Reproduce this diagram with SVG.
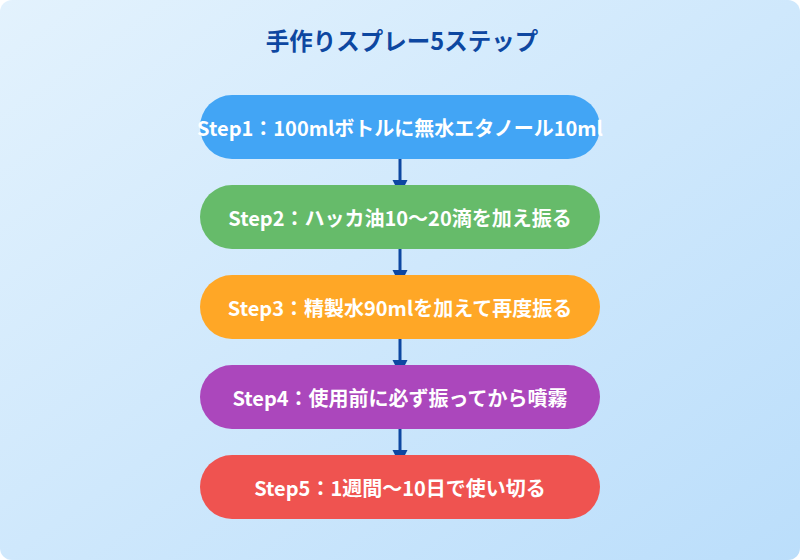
<svg xmlns="http://www.w3.org/2000/svg" width="800" height="560" viewBox="0 0 800 560">
<defs>
<linearGradient id="bg" x1="0" y1="0" x2="1" y2="1">
<stop offset="0" stop-color="#e3f2fd"/>
<stop offset="1" stop-color="#bbdefb"/>
</linearGradient>
<marker id="arr" viewBox="0 0 10 10" refX="10" refY="5" markerUnits="userSpaceOnUse" markerWidth="15" markerHeight="16" orient="auto">
<path d="M0,0 L10,5 L0,10 z" fill="#0d47a1"/>
</marker>
<style>
.node-text{font-family:"Noto Sans CJK JP","Noto Sans",sans-serif;font-size:20px;font-weight:bold;fill:#ffffff;text-anchor:middle}
.title{font-family:"Noto Sans CJK JP","Noto Sans",sans-serif;font-size:23.5px;font-weight:bold;fill:#0d47a1;text-anchor:middle}
.conn{stroke:#0d47a1;stroke-width:3;fill:none;marker-end:url(#arr)}
</style>
</defs>
<rect x="0" y="0" width="800" height="560" rx="12" fill="url(#bg)"/>
<text class="title" x="402" y="50">手作りスプレー5ステップ</text>
<g id="connectors">
<line class="conn" x1="400" y1="159" x2="400" y2="195"/>
<line class="conn" x1="400" y1="249" x2="400" y2="285"/>
<line class="conn" x1="400" y1="339" x2="400" y2="375"/>
<line class="conn" x1="400" y1="429" x2="400" y2="465"/>
</g>
<g id="step1">
<rect x="200" y="95" width="400" height="64" rx="32" fill="#42a5f5"/>
<text class="node-text" x="400" y="136">Step1：100mlボトルに無水エタノール10ml</text>
</g>
<g id="step2">
<rect x="200" y="185" width="400" height="64" rx="32" fill="#66bb6a"/>
<text class="node-text" x="400" y="226">Step2：ハッカ油10〜20滴を加え振る</text>
</g>
<g id="step3">
<rect x="200" y="275" width="400" height="64" rx="32" fill="#ffa726"/>
<text class="node-text" x="400" y="316">Step3：精製水90mlを加えて再度振る</text>
</g>
<g id="step4">
<rect x="200" y="365" width="400" height="64" rx="32" fill="#ab47bc"/>
<text class="node-text" x="400" y="406">Step4：使用前に必ず振ってから噴霧</text>
</g>
<g id="step5">
<rect x="200" y="455" width="400" height="64" rx="32" fill="#ef5350"/>
<text class="node-text" x="400" y="496">Step5：1週間〜10日で使い切る</text>
</g>
</svg>
